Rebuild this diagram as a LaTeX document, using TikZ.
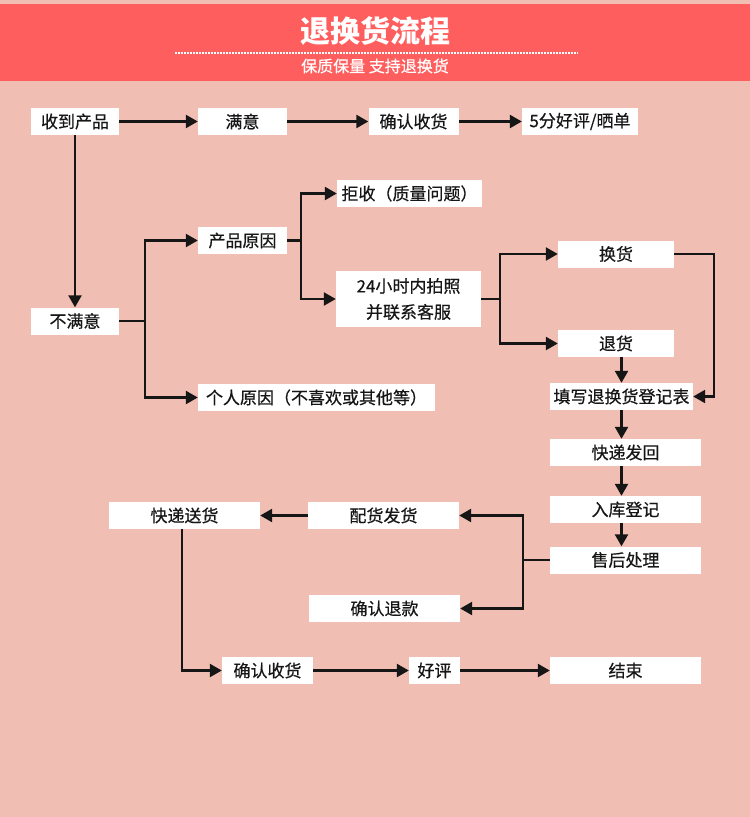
\documentclass[tikz,border=0pt]{standalone}
\usepackage{fontspec}
\setmainfont{Noto Sans CJK SC}
\newfontfamily\boxfont{Noto Sans CJK SC}[FakeBold=0.5]
\usetikzlibrary{arrows.meta}
\definecolor{bgpink}{RGB}{240,190,178}
\definecolor{bandred}{RGB}{255,94,94}
\definecolor{ink}{RGB}{22,22,22}
\begin{document}
\begin{tikzpicture}[x=1pt, y=-1pt,
    box/.style={fill=white, inner sep=0pt, minimum height=27pt, font=\boxfont\fontsize{17}{26}\selectfont, text=ink},
    link/.style={line width=2.4pt, draw=ink},
    arr/.style={link, -{Triangle[length=12pt, width=13pt]}}
]
    % Background and header band
    \fill[bgpink] (0,0) rectangle (750,817);
    \fill[bandred] (0,4) rectangle (750,81);
    \node[font=\fontsize{30}{32}\selectfont\bfseries, text=white] (title) at (375,31) {退换货流程};
    \draw[white, line width=1.6pt, dash pattern=on 1.6pt off 1.4pt] (175,53) -- (578,53);
    \node[font=\boxfont\fontsize{16}{18}\selectfont, text=white] (subtitle) at (375,66) {保质保量 支持退换货};

    % Top row
    \node[box, minimum width=88pt] (recv) at (75,121.5) {收到产品};
    \node[box, minimum width=89pt] (ok) at (242.5,121.5) {满意};
    \node[box, minimum width=90pt] (confirm) at (413.5,121.5) {确认收货};
    \node[box, minimum width=116pt] (praise) at (580,121.5) {5分好评/晒单};

    % Not satisfied branch
    \node[box, minimum width=88pt] (unhappy) at (75,321) {不满意};
    \node[box, minimum width=89pt] (cause) at (242.5,240.5) {产品原因};
    \node[box, minimum width=237pt] (own) at (316.5,397.5) {个人原因（不喜欢或其他等）};
    \node[box, minimum width=145pt] (reject) at (409.5,193.5) {拒收（质量问题）};
    \node[box, minimum width=145pt, minimum height=56pt, align=center] (photo) at (408.5,299) {24小时内拍照\\并联系客服};

    % Exchange / return column
    \node[box, minimum width=116pt] (swap) at (616,254) {换货};
    \node[box, minimum width=116pt] (refund) at (616,343.5) {退货};
    \node[box, minimum width=143pt] (form) at (621.5,396.5) {填写退换货登记表};
    \node[box, minimum width=151pt] (ship) at (625.5,452.5) {快递发回};
    \node[box, minimum width=151pt] (stock) at (625.5,509.5) {入库登记};
    \node[box, minimum width=151pt] (after) at (625.5,560) {售后处理};

    % Bottom part
    \node[box, minimum width=151pt] (deliver) at (184.5,515.5) {快递送货};
    \node[box, minimum width=151pt] (pack) at (383.5,515.5) {配货发货};
    \node[box, minimum width=151pt] (repay) at (384.5,608.5) {确认退款};
    \node[box, minimum width=91pt] (got) at (267.5,670.5) {确认收货};
    \node[box, minimum width=51pt] (good) at (434.5,670.5) {好评};
    \node[box, minimum width=151pt] (done) at (625.5,670.5) {结束};

    % Arrows
    \draw[arr] (recv) -- (ok);
    \draw[arr] (ok) -- (confirm);
    \draw[arr] (confirm) -- (praise);
    \draw[arr] (recv) -- (unhappy);

    \draw[link] (unhappy.east) -- ++(26,0) coordinate (fork1);
    \draw[arr] (fork1) |- (cause);
    \draw[arr] (fork1) |- (own);

    \draw[link] (cause.east) -- ++(14,0) coordinate (fork2);
    \draw[arr] (fork2) |- (reject);
    \draw[arr] (fork2) |- (photo);

    \draw[link] (photo.east) -- ++(19,0) coordinate (fork3);
    \draw[arr] (fork3) |- (swap);
    \draw[arr] (fork3) |- (refund);

    \draw[arr] (refund.south -| form.north) -- (form.north);
    \draw[arr] (swap.east) -- ++(40,0) |- (form.east);
    \draw[arr] (form.south) -- (form.south |- ship.north);
    \draw[arr] (form.south |- ship.south) -- (form.south |- stock.north);
    \draw[arr] (form.south |- stock.south) -- (form.south |- after.north);

    \draw[link] (after.west) -- ++(-27,0) coordinate (fork4);
    \draw[arr] (fork4) |- (pack);
    \draw[arr] (fork4) |- (repay);
    \draw[arr] (pack) -- (deliver);
    \draw[arr] (deliver.south -| 182,0) |- (got);
    \draw[arr] (got) -- (good);
    \draw[arr] (good) -- (done);
\end{tikzpicture}
\end{document}
